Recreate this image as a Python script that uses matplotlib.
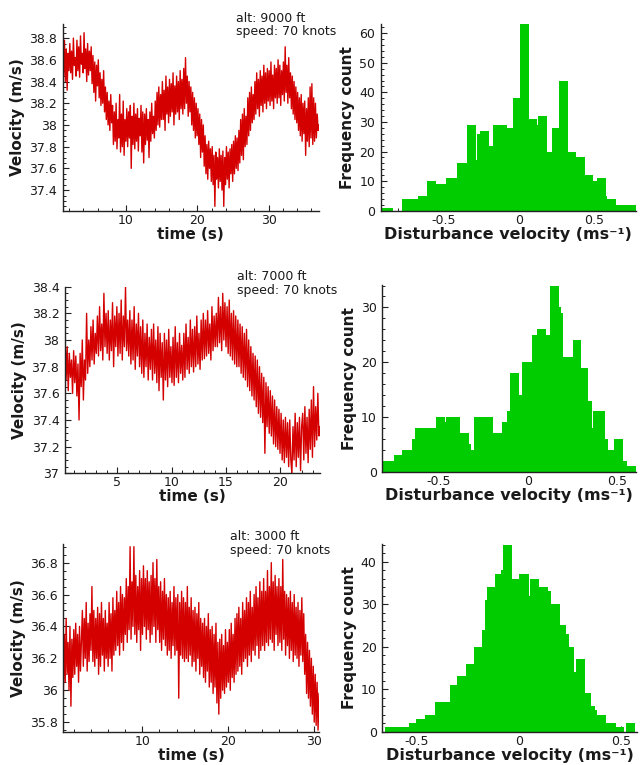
import numpy as np
import matplotlib
matplotlib.use("Agg")
import matplotlib.pyplot as plt
from matplotlib.ticker import MultipleLocator, FuncFormatter

plt.rcParams['font.family'] = ['DejaVu Sans']

# ---------------- DATA ----------------
alt_labels = ["alt: 9000 ft", "alt: 7000 ft", "alt: 3000 ft"]
speed_label = "speed: 70 knots"

# time ranges (s) of each record
t1_range = (1.12, 37.06)
t2_range = (0.17, 23.69)
t3_range = (0.78, 30.62)

# velocity records (m/s)
v1 = [38.92, 38.45, 38.78, 38.40, 38.70, 38.32, 38.66, 38.50,
      38.75, 38.48, 38.68, 38.42, 38.80, 38.55, 38.62, 38.45,
      38.78, 38.50, 38.72, 38.44, 38.82, 38.56, 38.66, 38.48,
      38.85, 38.52, 38.70, 38.40, 38.75, 38.46, 38.68, 38.50,
      38.72, 38.38, 38.64, 38.30, 38.58, 38.22, 38.55, 38.36,
      38.60, 38.25, 38.48, 38.18, 38.42, 38.20, 38.50, 38.12,
      38.35, 38.05, 38.30, 38.00, 38.22, 37.95, 38.28, 38.02,
      38.18, 37.82, 38.12, 37.85, 38.20, 37.78, 38.05, 37.88,
      38.28, 37.75, 38.10, 37.80, 38.22, 37.72, 38.05, 37.85,
      38.15, 37.80, 38.12, 37.88, 38.18, 37.60, 38.08, 37.82,
      38.20, 37.78, 38.10, 37.85, 38.15, 37.76, 38.06, 37.90,
      38.18, 37.75, 38.12, 37.65, 38.10, 37.82, 38.15, 37.86,
      38.05, 37.70, 38.12, 37.85, 38.20, 37.92, 38.08, 37.88,
      38.22, 37.95, 38.30, 38.00, 38.35, 37.98, 38.28, 38.05,
      38.40, 38.05, 38.32, 37.95, 38.45, 38.10, 38.35, 38.02,
      38.42, 38.08, 38.38, 38.12, 38.48, 38.00, 38.36, 38.10,
      38.45, 38.12, 38.40, 38.05, 38.50, 38.15, 38.42, 38.10,
      38.52, 38.15, 38.62, 38.20, 38.45, 38.08, 38.40, 38.12,
      38.35, 38.00, 38.30, 37.95, 38.25, 37.88, 38.20, 37.90,
      38.15, 37.82, 38.10, 37.70, 38.05, 37.75, 38.00, 37.62,
      37.90, 37.55, 37.82, 37.50, 37.85, 37.60, 37.78, 37.48,
      37.80, 37.45, 37.72, 37.25, 37.75, 37.50, 37.70, 37.42,
      37.78, 37.48, 37.72, 37.40, 37.76, 37.25, 37.70, 37.45,
      37.80, 37.50, 37.75, 37.42, 37.78, 37.55, 37.82, 37.48,
      37.85, 37.55, 37.90, 37.60, 37.88, 37.58, 37.95, 37.65,
      38.05, 37.72, 38.10, 37.68, 38.15, 37.80, 38.08, 37.82,
      38.25, 37.90, 38.30, 37.95, 38.35, 38.02, 38.28, 38.05,
      38.40, 38.10, 38.48, 38.15, 38.42, 38.08, 38.50, 38.18,
      38.45, 38.12, 38.55, 38.20, 38.48, 38.15, 38.52, 38.22,
      38.50, 38.18, 38.58, 38.22, 38.46, 38.15, 38.55, 38.25,
      38.52, 38.20, 38.60, 38.25, 38.55, 38.18, 38.50, 38.28,
      38.58, 38.22, 38.72, 38.30, 38.55, 38.20, 38.62, 38.25,
      38.48, 38.15, 38.45, 38.10, 38.40, 38.05, 38.35, 38.02,
      38.30, 37.95, 38.25, 37.90, 38.28, 37.85, 38.20, 37.92,
      38.22, 37.72, 38.15, 37.85, 38.25, 37.80, 38.35, 37.88,
      38.38, 37.82, 38.25, 37.85, 38.20, 37.88, 38.10, 37.95, 38.00]

v2 = [38.05, 37.70, 37.95, 37.62, 37.90, 37.72, 37.85, 37.60, 37.92, 37.68,
      37.88, 37.58, 37.82, 37.40, 37.90, 37.65, 38.00, 37.55, 37.85, 37.70,
      38.20, 37.75, 38.00, 37.80, 38.10, 37.85, 38.15, 37.82, 38.05, 37.90,
      38.18, 37.88, 38.25, 37.92, 38.12, 37.85, 38.35, 37.95, 38.20, 37.90,
      38.22, 37.85, 38.15, 37.92, 38.28, 37.80, 38.18, 37.95, 38.25, 37.88,
      38.20, 37.90, 38.30, 37.85, 38.18, 37.95, 38.40, 37.92, 38.15, 37.88,
      38.22, 37.82, 38.15, 37.85, 38.25, 37.78, 38.12, 37.88, 38.20, 37.80,
      38.10, 37.75, 38.15, 37.72, 38.05, 37.80, 38.12, 37.70, 38.02, 37.78,
      38.08, 37.70, 38.12, 37.75, 38.00, 37.68, 38.10, 37.62, 38.05, 37.72,
      37.98, 37.55, 38.05, 37.70, 38.00, 37.65, 38.08, 37.72, 37.95, 37.68,
      38.02, 37.66, 38.10, 37.72, 37.98, 37.68, 38.05, 37.75, 37.96, 37.70,
      38.05, 37.72, 38.12, 37.78, 38.02, 37.75, 38.15, 37.80, 38.08, 37.76,
      38.10, 37.80, 38.18, 37.82, 38.05, 37.78, 38.15, 37.85, 38.20, 37.86,
      38.15, 37.88, 38.22, 37.90, 38.12, 37.85, 38.25, 37.92, 38.18, 37.95,
      38.20, 37.95, 38.32, 37.98, 38.25, 37.92, 38.35, 38.00, 38.28, 37.95,
      38.25, 37.90, 38.30, 37.88, 38.20, 37.85, 38.22, 37.82, 38.18, 37.80,
      38.15, 37.80, 38.12, 37.75, 38.10, 37.72, 38.05, 37.70, 38.08, 37.65,
      38.00, 37.62, 37.95, 37.58, 37.90, 37.55, 37.88, 37.50, 37.85, 37.45,
      37.80, 37.42, 37.75, 37.38, 37.72, 37.15, 37.68, 37.35, 37.65, 37.30,
      37.62, 37.28, 37.58, 37.22, 37.55, 37.20, 37.50, 37.18, 37.48, 37.15,
      37.45, 37.10, 37.40, 37.08, 37.42, 37.12, 37.38, 37.05, 37.40, 37.10,
      37.00, 37.35, 37.10, 37.45, 37.05, 37.38, 37.12, 37.42, 37.02, 37.35,
      37.45, 37.10, 37.50, 37.15, 37.42, 37.08, 37.48, 37.18, 37.55, 37.12,
      37.65, 37.20, 37.50, 37.25, 37.60, 37.28, 37.35]

v3 = [35.95, 36.35, 36.05, 36.45, 36.10, 36.30, 36.00, 36.40, 35.90, 36.32, 36.08,
      36.38, 36.10, 36.42, 36.15, 36.35, 36.05, 36.40, 36.12, 36.30,
      36.50, 36.15, 36.45, 36.20, 36.55, 36.12, 36.42, 36.18, 36.48,
      36.25, 36.65, 36.18, 36.50, 36.15, 36.45, 36.20, 36.52, 36.10,
      36.48, 36.15, 36.55, 36.22, 36.45, 36.12, 36.50, 36.20, 36.42,
      36.15, 36.55, 36.20, 36.48, 36.12, 36.58, 36.22, 36.50, 36.25,
      36.62, 36.28, 36.55, 36.22, 36.65, 36.30, 36.60, 36.25, 36.58,
      36.35, 36.70, 36.30, 36.65, 36.38, 36.90, 36.32, 36.68, 36.40,
      36.90, 36.35, 36.72, 36.30, 36.65, 36.38, 36.75, 36.25, 36.70,
      36.35, 36.78, 36.40, 36.70, 36.32, 36.75, 36.38, 36.68, 36.30,
      36.72, 36.35, 36.80, 36.40, 36.70, 36.30, 36.82, 36.38, 36.65,
      36.30, 36.68, 36.25, 36.62, 36.32, 36.70, 36.28, 36.60, 36.22,
      36.58, 36.25, 36.62, 36.20, 36.55, 36.28, 36.65, 36.22, 36.58,
      36.25, 36.60, 35.95, 36.55, 36.22, 36.62, 36.20, 36.58, 36.18,
      36.55, 36.20, 36.65, 36.18, 36.52, 36.22, 36.58, 36.15, 36.50,
      36.18, 36.52, 36.12, 36.48, 36.20, 36.55, 36.10, 36.45, 36.15,
      36.42, 36.08, 36.45, 36.05, 36.40, 36.12, 36.48, 36.02, 36.38,
      36.05, 36.40, 35.98, 36.35, 36.02, 36.42, 35.92, 36.30, 35.85,
      36.32, 35.95, 36.35, 36.00, 36.28, 35.98, 36.38, 36.02, 36.30,
      36.05, 36.38, 36.00, 36.42, 36.08, 36.35, 36.05, 36.45, 36.10,
      36.48, 36.12, 36.52, 36.15, 36.45, 36.10, 36.55, 36.18, 36.50,
      36.20, 36.58, 36.15, 36.55, 36.22, 36.62, 36.18, 36.52, 36.25,
      36.60, 36.22, 36.65, 36.28, 36.58, 36.20, 36.68, 36.25, 36.62,
      36.28, 36.70, 36.25, 36.62, 36.30, 36.75, 36.28, 36.65, 36.32,
      36.80, 36.30, 36.68, 36.25, 36.72, 36.35, 36.65, 36.28, 36.70,
      36.30, 36.65, 36.25, 36.82, 36.32, 36.62, 36.22, 36.60, 36.28,
      36.58, 36.20, 36.62, 36.25, 36.55, 36.18, 36.60, 36.22, 36.52,
      36.20, 36.55, 36.15, 36.50, 36.22, 36.58, 36.18, 36.48, 36.10,
      36.35, 35.98, 36.30, 35.95, 36.25, 35.90, 36.20, 35.85, 36.15,
      35.80, 36.10, 35.78, 36.05, 35.75, 35.98]

# histogram bin edges (m/s) and counts
h1_edges = [-0.907, -0.830, -0.775, -0.664, -0.609, -0.547, -0.481, -0.411, -0.344,
            -0.285, -0.274, -0.256, -0.199, -0.172, -0.079, -0.040, 0.009, 0.068,
            0.119, 0.130, 0.190, 0.219, 0.269, 0.325, 0.380, 0.439, 0.490, 0.517,
            0.576, 0.587, 0.645, 0.777]
h1_counts = [1, 0, 4, 5, 10, 9, 11, 16, 29, 17, 26, 27, 22, 29, 28, 38, 63, 31,
             29, 32, 20, 28, 44, 20, 18, 12, 10, 11, 5, 4, 2]

h2_edges = [-0.813, -0.753, -0.705, -0.654, -0.636, -0.518, -0.467, -0.462, -0.383,
            -0.331, -0.318, -0.305, -0.198, -0.148, -0.121, -0.103, -0.052, -0.036,
            0.021, 0.050, 0.099, 0.123, 0.172, 0.185, 0.196, 0.249, 0.299, 0.338,
            0.359, 0.366, 0.430, 0.450, 0.480, 0.531, 0.557, 0.604]
h2_counts = [2, 3, 4, 6, 8, 10, 9, 10, 7, 5, 4, 10, 7, 9, 11, 18, 14, 20, 25, 26,
             25, 34, 30, 29, 21, 24, 19, 13, 8, 11, 6, 4, 6, 2, 1]

h3_edges = [-0.657, -0.538, -0.502, -0.461, -0.412, -0.338, -0.302, -0.260, -0.221,
            -0.180, -0.165, -0.155, -0.118, -0.085, -0.077, -0.031, 0.000, 0.049,
            0.054, 0.098, 0.144, 0.157, 0.204, 0.230, 0.248, 0.271, 0.279, 0.324,
            0.356, 0.374, 0.386, 0.426, 0.479, 0.515, 0.525, 0.569]
h3_counts = [1, 2, 3, 4, 7, 11, 13, 16, 20, 24, 31, 34, 37, 38, 44, 36, 37, 32, 36,
             34, 33, 30, 25, 23, 20, 14, 17, 9, 6, 5, 4, 2, 1, 0, 2]

# ---------------- STYLE ----------------
W, H = 643, 765
RED = '#d40000'
GREEN = '#00cc00'
TXT = '#1a1a1a'

fig = plt.figure(figsize=(W / 100, H / 100), dpi=100)


def px_axes(x0, y0, x1, y1):
    return fig.add_axes([x0 / W, 1 - y1 / H, (x1 - x0) / W, (y1 - y0) / H])


fmt = FuncFormatter(lambda v, p: ('%g' % round(v, 6)))


def style(ax, xmaj, xmin, ymaj, ymin):
    for s in ['top', 'right']:
        ax.spines[s].set_visible(False)
    for s in ['left', 'bottom']:
        ax.spines[s].set_linewidth(1.0)
        ax.spines[s].set_color('#222222')
        ax.spines[s].set_zorder(5)
    ax.xaxis.set_major_locator(MultipleLocator(xmaj))
    ax.xaxis.set_minor_locator(MultipleLocator(xmin))
    ax.yaxis.set_major_locator(MultipleLocator(ymaj))
    ax.yaxis.set_minor_locator(MultipleLocator(ymin))
    ax.xaxis.set_major_formatter(fmt)
    ax.yaxis.set_major_formatter(fmt)
    ax.tick_params(which='major', direction='in', length=4, width=0.8,
                   labelsize=9, labelcolor=TXT, color='#222222', pad=4)
    ax.tick_params(axis='x', which='major', pad=2.2)
    ax.tick_params(which='minor', direction='in', length=2.2, width=0.7,
                   color='#222222')


label_kw = dict(fontsize=11, fontweight='bold', color=TXT)

left_boxes = [(62.7, 24, 319, 210.7), (65, 286.7, 320, 473.3), (63.3, 544.3, 319, 731.7)]
right_boxes = [(380.7, 24, 636, 210.7), (382.3, 285, 636, 471.7), (382.3, 544.3, 636.7, 731.7)]

series = [(t1_range, v1, (37.21, 38.93), 10, 2),
          (t2_range, v2, (37.0, 38.4), 5, 1),
          (t3_range, v3, (35.74, 36.915), 10, 2)]
hists = [(h1_edges, h1_counts, (-0.914, 0.777), (0, 63.1)),
         (h2_edges, h2_counts, (-0.818, 0.605), (0, 34.1)),
         (h3_edges, h3_counts, (-0.668, 0.578), (0, 44.1))]
annot_pos = [(236, 22, 35), (237.3, 280, 294), (230, 540, 554)]

for i in range(3):
    (tr, v, ylim, xmaj, xmin) = series[i]
    ax = px_axes(*left_boxes[i])
    t = np.linspace(tr[0], tr[1], len(v))
    ax.plot(t, v, color=RED, lw=1.0)
    ax.set_xlim(tr)
    ax.set_ylim(ylim)
    style(ax, xmaj, xmin, 0.2, 0.05)
    ax.set_xlabel('time (s)', labelpad=0, **label_kw)
    ax.set_ylabel('Velocity (m/s)', labelpad=3, **label_kw)

    xa, yb1, yb2 = annot_pos[i]
    fig.text(xa / W, 1 - yb1 / H, alt_labels[i], fontsize=9, color=TXT, va='baseline')
    fig.text(xa / W, 1 - yb2 / H, speed_label, fontsize=9, color=TXT, va='baseline')

    edges, counts, xlim, hylim = hists[i]
    axh = px_axes(*right_boxes[i])
    e = np.array(edges)
    axh.bar(e[:-1], counts, width=np.diff(e), align='edge', color=GREEN,
            linewidth=0, zorder=2)
    axh.set_xlim(xlim)
    axh.set_ylim(hylim)
    style(axh, 0.5, 0.1, 10, 2)
    axh.set_xlabel('Disturbance velocity (ms\u207b\u00b9)', labelpad=0,
                   fontsize=11.5, fontweight='bold', color=TXT)
    axh.set_ylabel('Frequency count', labelpad=3, **label_kw)

fig.savefig('out.png', dpi=100)
